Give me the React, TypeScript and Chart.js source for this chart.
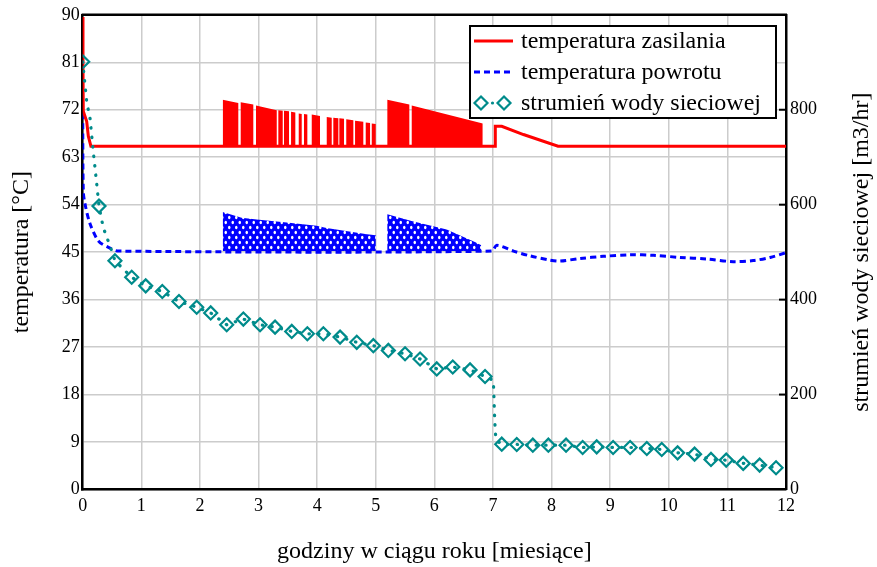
import React, { useEffect, useRef } from "react";
import { Chart, registerables } from "chart.js";

Chart.register(...registerables);

const FONT = "'Liberation Serif', 'Times New Roman', serif";

// ---- tick labels ----
const monthTicks = [0, 1, 2, 3, 4, 5, 6, 7, 8, 9, 10, 11, 12];
const tempTicks = [0, 9, 18, 27, 36, 45, 54, 63, 72, 81, 90];
const flowTicks = [0, 200, 400, 600, 800];

const xTitle = "godziny w ciągu roku [miesiące]";
const yTitle = "temperatura [°C]";
const y1Title = "strumień wody sieciowej [m3/hr]";
const legendLabels = ["temperatura zasilania", "temperatura powrotu", "strumień wody sieciowej"];

// ---- supply temperature (temperatura zasilania) ----
const supplyBase = 65.1;
const supplyX = [0, 0.005, 0.01, 0.068, 0.096, 0.14, 7.036, 7.04, 7.15, 7.52, 8.11, 12];
const supplyY = [89.6, 80, 71.7, 69.8, 67.0, 65.1, 65.1, 68.85, 68.85, 67.3, 65.1, 65.1];
const supplyBlockStart = [2.389, 2.696, 2.957, 3.338, 3.435, 3.555, 3.686, 3.776, 3.908, 4.164, 4.276, 4.379, 4.497, 4.647, 4.829, 4.932, 5.198, 5.614];
const supplyBlockEnd = [2.655, 2.911, 3.311, 3.413, 3.52, 3.628, 3.737, 3.833, 4.049, 4.249, 4.362, 4.459, 4.618, 4.788, 4.903, 5.0, 5.573, 6.826];
const supplyBlockTopStart = [73.9, 73.4, 72.8, 71.9, 71.8, 71.6, 71.3, 71.2, 71.1, 70.6, 70.5, 70.4, 70.2, 69.9, 69.6, 69.4, 73.9, 72.8];
const supplyBlockTopEnd = [73.3, 73.0, 71.9, 71.8, 71.7, 71.5, 71.2, 71.1, 70.8, 70.5, 70.4, 70.3, 70.0, 69.7, 69.5, 69.3, 73.0, 69.4];

// ---- return temperature (temperatura powrotu) ----
const returnBase = 45.2;
const returnX = [0, 0.01, 0.04, 0.125, 0.27, 0.44, 0.61, 6.98, 7.065, 7.35, 7.63, 7.97, 8.14, 8.49, 8.88, 9.34, 9.74, 10.19, 10.65, 11.1, 11.44, 11.73, 12];
const returnY = [71.3, 56.6, 54.1, 50.4, 47.1, 45.9, 45.2, 45.2, 46.3, 45.2, 44.3, 43.5, 43.3, 43.8, 44.2, 44.5, 44.4, 44.0, 43.7, 43.2, 43.4, 44.0, 44.9];
const returnBandX = [2.389, 2.389, 2.71, 2.97, 3.48, 3.99, 4.16, 4.85, 5.0, 5.0, 5.198, 5.198, 5.61, 6.21, 6.72, 6.8, 6.8];
const returnBandY = [45.2, 52.6, 51.5, 51.2, 50.6, 50.0, 49.6, 48.4, 48.2, 45.2, 45.2, 52.2, 50.9, 49.3, 46.8, 46.3, 45.2];

// ---- network water flow (strumień wody sieciowej) ----
const flowMarkX = [0, 0.278, 0.55, 0.836, 1.075, 1.358, 1.643, 1.945, 2.184, 2.457, 2.741, 3.026, 3.282, 3.567, 3.833, 4.106, 4.391, 4.676, 4.959, 5.215, 5.5, 5.756, 6.041, 6.314, 6.609, 6.865, 7.15, 7.406, 7.68, 7.945, 8.247, 8.53, 8.77, 9.05, 9.34, 9.625, 9.88, 10.15, 10.44, 10.72, 10.98, 11.27, 11.55, 11.83];
const flowMarkY = [901, 597, 482, 447, 429, 417, 396, 384, 372, 347, 359, 347, 342, 333, 328, 328, 321, 310, 303, 293, 286, 275, 254, 258, 252, 238, 95.5, 94.9, 93.4, 93.4, 93.4, 88.6, 89.8, 88.6, 88.6, 86.5, 84.4, 77.2, 74.5, 63.4, 61.9, 55.0, 51.4, 45.8];
const flowExtraX = [0.068, 0.125, 0.18, 0.24, 0.35, 0.495, 7.007, 7.03, 7.05, 11.9];
const flowExtraY = [817, 782, 712, 643, 552, 503, 230, 146, 104, 43];

const RED = "#ff0000";
const BLUE = "#0000ff";
const TEAL = "#008b8b";

function makeBluePattern(ctx: CanvasRenderingContext2D) {
  const c = document.createElement("canvas");
  c.width = 7;
  c.height = 10;
  const g = c.getContext("2d")!;
  g.fillStyle = BLUE;
  g.fillRect(0, 0, 7, 10);
  g.fillStyle = "#ffffff";
  g.beginPath();
  g.ellipse(1.75, 2.5, 1.25, 1.8, 0, 0, Math.PI * 2);
  g.fill();
  g.beginPath();
  g.ellipse(5.25, 7.5, 1.25, 1.8, 0, 0, Math.PI * 2);
  g.fill();
  return ctx.createPattern(c, "repeat");
}

const decorPlugin = {
  id: "decor",
  afterDatasetsDraw(chart: any) {
    const { ctx, chartArea: a } = chart;
    ctx.save();
    // top frame line
    ctx.strokeStyle = "#000";
    ctx.lineWidth = 2.5;
    ctx.beginPath();
    ctx.moveTo(a.left - 1, a.top);
    ctx.lineTo(a.right + 1, a.top);
    ctx.stroke();
    // inward tick marks on right axis
    const y1 = chart.scales.y1;
    ctx.lineWidth = 2;
    flowTicks.forEach((v) => {
      if (v === 0) return;
      const py = y1.getPixelForValue(v);
      ctx.beginPath();
      ctx.moveTo(a.right - 7, py);
      ctx.lineTo(a.right, py);
      ctx.stroke();
    });
    // right axis title (reads bottom to top)
    ctx.fillStyle = "#000";
    ctx.font = `24px ${FONT}`;
    ctx.textAlign = "center";
    ctx.textBaseline = "middle";
    ctx.save();
    ctx.translate(862, (a.top + a.bottom) / 2);
    ctx.rotate(-Math.PI / 2);
    ctx.fillText(y1Title, 0, 0);
    ctx.restore();

    // legend
    const bx = 470, by = 26, bw = 306, bh = 92;
    ctx.fillStyle = "#fff";
    ctx.fillRect(bx, by, bw, bh);
    ctx.strokeStyle = "#000";
    ctx.lineWidth = 2;
    ctx.strokeRect(bx, by, bw, bh);
    const rows = [41, 72, 103];
    const sx0 = 474, sx1 = 513;
    // red
    ctx.strokeStyle = RED;
    ctx.lineWidth = 3;
    ctx.setLineDash([]);
    ctx.beginPath();
    ctx.moveTo(sx0, rows[0]);
    ctx.lineTo(sx1, rows[0]);
    ctx.stroke();
    // blue
    ctx.strokeStyle = BLUE;
    ctx.setLineDash([6, 4]);
    ctx.beginPath();
    ctx.moveTo(sx0, rows[1]);
    ctx.lineTo(sx1, rows[1]);
    ctx.stroke();
    ctx.setLineDash([]);
    // teal
    ctx.strokeStyle = TEAL;
    ctx.lineWidth = 2.2;
    const diamond = (cx: number, cy: number, r: number) => {
      ctx.beginPath();
      ctx.moveTo(cx, cy - r);
      ctx.lineTo(cx + r, cy);
      ctx.lineTo(cx, cy + r);
      ctx.lineTo(cx - r, cy);
      ctx.closePath();
      ctx.stroke();
    };
    diamond(481, rows[2], 6.5);
    diamond(504, rows[2], 6.5);
    ctx.fillStyle = TEAL;
    ctx.beginPath();
    ctx.arc(492.5, rows[2], 1.6, 0, Math.PI * 2);
    ctx.fill();
    // texts
    ctx.fillStyle = "#000";
    ctx.font = `24px ${FONT}`;
    ctx.textAlign = "left";
    ctx.textBaseline = "middle";
    legendLabels.forEach((t, i) => ctx.fillText(t, 521, rows[i] + 1));
    ctx.restore();
  },
};

export default function App() {
  const ref = useRef<HTMLCanvasElement | null>(null);

  useEffect(() => {
    const canvas = ref.current;
    if (!canvas) return;
    const ctx = canvas.getContext("2d")!;
    Chart.defaults.font.family = FONT;
    Chart.defaults.color = "#000";

    const supplyFill: { x: number; y: number }[] = [];
    supplyBlockStart.forEach((s, i) => {
      supplyFill.push(
        { x: s, y: supplyBase },
        { x: s, y: supplyBlockTopStart[i] },
        { x: supplyBlockEnd[i], y: supplyBlockTopEnd[i] },
        { x: supplyBlockEnd[i], y: supplyBase }
      );
    });
    const supplyLine = supplyX.map((x, i) => ({ x, y: supplyY[i] }));
    const returnLine = returnX.map((x, i) => ({ x, y: returnY[i] }));
    const returnBand = returnBandX.map((x, i) => ({ x, y: returnBandY[i] }));
    const flowMarks = flowMarkX.map((x, i) => ({ x, y: flowMarkY[i] }));
    const flowLine = flowMarks
      .concat(flowExtraX.map((x, i) => ({ x, y: flowExtraY[i] })))
      .sort((p, q) => p.x - q.x);

    const tickFont = { family: FONT, size: 18 };
    const gridColor = "#cccccc";

    const chart = new Chart(ctx, {
      type: "line",
      data: {
        datasets: [
          {
            label: "fillSupply",
            data: supplyFill,
            yAxisID: "y",
            borderColor: "rgba(0,0,0,0)",
            borderWidth: 0,
            backgroundColor: RED,
            fill: { value: supplyBase },
            pointRadius: 0,
            tension: 0,
            order: 3,
          },
          {
            label: legendLabels[0],
            data: supplyLine,
            yAxisID: "y",
            borderColor: RED,
            borderWidth: 3,
            pointRadius: 0,
            fill: false,
            tension: 0,
            order: 2,
          },
          {
            label: "bandReturn",
            data: returnBand,
            yAxisID: "y",
            borderColor: "rgba(0,0,0,0)",
            borderWidth: 0,
            backgroundColor: makeBluePattern(ctx) as any,
            fill: { value: returnBase },
            pointRadius: 0,
            tension: 0,
            order: 5,
          },
          {
            label: legendLabels[1],
            data: returnLine,
            yAxisID: "y",
            borderColor: BLUE,
            borderWidth: 3,
            borderDash: [6, 4],
            pointRadius: 0,
            fill: false,
            tension: 0.3,
            order: 4,
          },
          {
            label: legendLabels[2],
            data: flowLine,
            yAxisID: "y1",
            borderColor: TEAL,
            borderWidth: 3.2,
            borderDash: [0.5, 9],
            borderCapStyle: "round",
            pointRadius: 0,
            fill: false,
            tension: 0,
            order: 1,
          },
          {
            label: "flowMarkers",
            data: flowMarks,
            yAxisID: "y1",
            showLine: false,
            borderColor: TEAL,
            pointBorderColor: TEAL,
            pointBackgroundColor: "rgba(0,0,0,0)",
            pointStyle: "rectRot",
            pointRadius: 6.5,
            pointHoverRadius: 6.5,
            pointBorderWidth: 2.2,
            order: 0,
          },
        ],
      },
      options: {
        responsive: false,
        animation: false,
        events: [],
        layout: { padding: { top: 13, left: 0, right: 0, bottom: 0 } },
        plugins: {
          legend: { display: false },
          tooltip: { enabled: false },
        },
        scales: {
          x: {
            type: "linear",
            min: 0,
            max: 12,
            afterBuildTicks: (s: any) => {
              s.ticks = monthTicks.map((v) => ({ value: v }));
            },
            ticks: { font: tickFont, color: "#000", padding: 6, maxRotation: 0, autoSkip: false },
            grid: { color: gridColor, lineWidth: 1.5, drawTicks: false },
            border: { color: "#000", width: 2.5 },
            title: {
              display: true,
              text: xTitle,
              color: "#000",
              font: { family: FONT, size: 24 },
              padding: { top: 0, bottom: 1 },
            },
            afterFit: (s: any) => {
              s.height = 77.5;
            },
          },
          y: {
            type: "linear",
            position: "left",
            min: 0,
            max: 90,
            afterBuildTicks: (s: any) => {
              s.ticks = tempTicks.map((v) => ({ value: v }));
            },
            ticks: { font: tickFont, color: "#000", padding: 3, autoSkip: false },
            grid: { color: gridColor, lineWidth: 1.5, drawTicks: false },
            border: { color: "#000", width: 2.5 },
            title: {
              display: true,
              text: yTitle,
              color: "#000",
              font: { family: FONT, size: 24 },
              padding: { top: 7, bottom: 0 },
            },
            afterFit: (s: any) => {
              s.width = 82.7;
            },
          },
          y1: {
            type: "linear",
            position: "right",
            min: 0,
            max: 1000,
            afterBuildTicks: (s: any) => {
              s.ticks = flowTicks.map((v) => ({ value: v }));
            },
            ticks: { font: tickFont, color: "#000", padding: 4, autoSkip: false },
            grid: { drawOnChartArea: false, drawTicks: false },
            border: { color: "#000", width: 2.5 },
            afterFit: (s: any) => {
              s.width = 91;
            },
          },
        },
      },
      plugins: [decorPlugin],
    } as any);

    return () => chart.destroy();
  }, []);

  return (
    <div style={{ position: "absolute", left: 0, top: 0, width: 877, height: 567, background: "#fff" }}>
      <canvas ref={ref} width={877} height={567} />
    </div>
  );
}
